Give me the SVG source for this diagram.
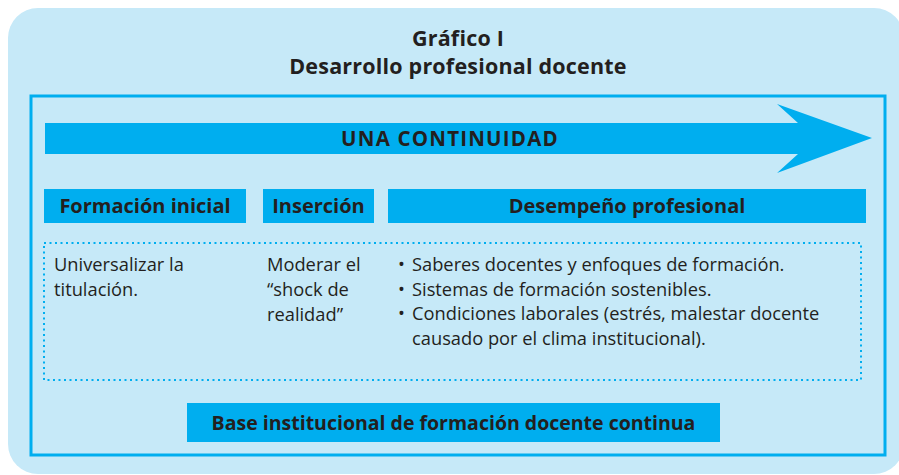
<svg xmlns="http://www.w3.org/2000/svg" width="899" height="475" viewBox="0 0 899 475">
<style>
.bold{font-family:"Open Sans",Lato,"Liberation Sans",sans-serif;font-weight:bold;fill:#231f20}
.reg{font-family:"Open Sans",Lato,"Liberation Sans",sans-serif;font-size:18.3px;fill:#231f20}
.hdr{fill:#00aeef}
</style>
<rect x="8" y="8" width="896" height="466" rx="30" fill="#c6e9f8"/>
<g id="title">
<text class="bold" x="458" y="46" font-size="21.5" text-anchor="middle" letter-spacing="0.2">Gráfico I</text>
<text class="bold" x="458" y="73.5" font-size="21.5" text-anchor="middle" letter-spacing="0.2">Desarrollo profesional docente</text>
</g>
<rect x="31" y="96" width="854" height="359" fill="none" stroke="#00aeef" stroke-width="3"/>
<g id="arrow">
<polygon points="45,123 798,123 777,104 872,138 777,173 798,154 45,154" fill="#00aeef"/>
<text class="bold" x="450" y="145.5" font-size="20.5" text-anchor="middle" letter-spacing="1.2">UNA CONTINUIDAD</text>
</g>
<g id="formacion-inicial">
<rect class="hdr" x="44" y="189" width="202" height="34"/>
<text class="bold" x="145" y="212.5" font-size="20" text-anchor="middle">Formación inicial</text>
</g>
<g id="insercion">
<rect class="hdr" x="263" y="189" width="111" height="34"/>
<text class="bold" x="318.5" y="212.5" font-size="20" text-anchor="middle">Inserción</text>
</g>
<g id="desempeno">
<rect class="hdr" x="388" y="189" width="478" height="34"/>
<text class="bold" x="627" y="212.5" font-size="20" text-anchor="middle">Desempeño profesional</text>
</g>
<g id="contenido">
<rect x="44" y="243" width="817" height="137" fill="none" stroke="#00aeef" stroke-width="2" stroke-dasharray="2 3.5"/>
<text class="reg" x="54" y="271">Universalizar la</text>
<text class="reg" x="54" y="296">titulación.</text>
<text class="reg" x="267" y="271">Moderar el</text>
<text class="reg" x="267" y="296">“shock de</text>
<text class="reg" x="267" y="321">realidad”</text>
<text class="reg" x="398" y="271">•</text>
<text class="reg" x="412" y="271">Saberes docentes y enfoques de formación.</text>
<text class="reg" x="398" y="295.5">•</text>
<text class="reg" x="412" y="295.5">Sistemas de formación sostenibles.</text>
<text class="reg" x="398" y="320">•</text>
<text class="reg" x="412" y="320">Condiciones laborales (estrés, malestar docente</text>
<text class="reg" x="412" y="344.5">causado por el clima institucional).</text>
</g>
<g id="base">
<rect class="hdr" x="187" y="403" width="533" height="39"/>
<text class="bold" x="453.5" y="429.5" font-size="19.5" text-anchor="middle">Base institucional de formación docente continua</text>
</g>
</svg>
